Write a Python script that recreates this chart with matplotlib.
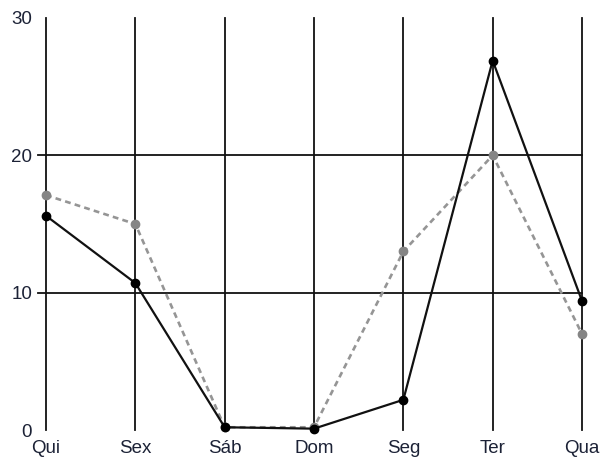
import matplotlib
matplotlib.use('Agg')
import matplotlib.pyplot as plt

# days of the week (pt-BR) and the two series
dias = ['Qui', 'Sex', 'Sáb', 'Dom', 'Seg', 'Ter', 'Qua']
serie_preta = [15.6, 10.7, 0.2, 0.1, 2.2, 26.9, 9.4]
serie_cinza = [17.1, 15.0, 0.2, 0.2, 13.0, 20.0, 7.0]
y_ticks = [0, 10, 20, 30]

plt.rcParams['font.family'] = ['Liberation Sans', 'DejaVu Sans']

fig = plt.figure(figsize=(6, 4.58), dpi=100)
ax = fig.add_axes([0.0767, 0.0611, 0.8933, 0.8996])

x = list(range(len(dias)))

# vertical grid at each category, horizontal only at 10 and 20
for xi in x:
    ax.axvline(xi, color='#111111', lw=1.3, zorder=1, clip_on=False)
for yv in [10, 20]:
    ax.axhline(yv, xmin=-0.015, xmax=1, color='#111111', lw=1.3, zorder=1, clip_on=False)

ax.plot(x, serie_cinza, color='#959595', lw=1.9, ls=(0, (2.2, 1.6)),
        marker='o', ms=6, mfc='#858585', mec='#858585', zorder=3, clip_on=False)
ax.plot(x, serie_preta, color='#111111', lw=1.6,
        marker='o', ms=6, mfc='#000000', mec='#000000', zorder=4, clip_on=False)

ax.set_xlim(0, len(dias) - 1)
ax.set_ylim(0, 30)
ax.set_xticks(x)
ax.set_xticklabels(dias)
ax.set_yticks(y_ticks)
ax.tick_params(length=0, labelsize=13.5, colors='#1c2236')
ax.tick_params(axis='y', pad=10)
ax.tick_params(axis='x', pad=7)
for s in ax.spines.values():
    s.set_visible(False)

fig.savefig('out.png', dpi=100)
